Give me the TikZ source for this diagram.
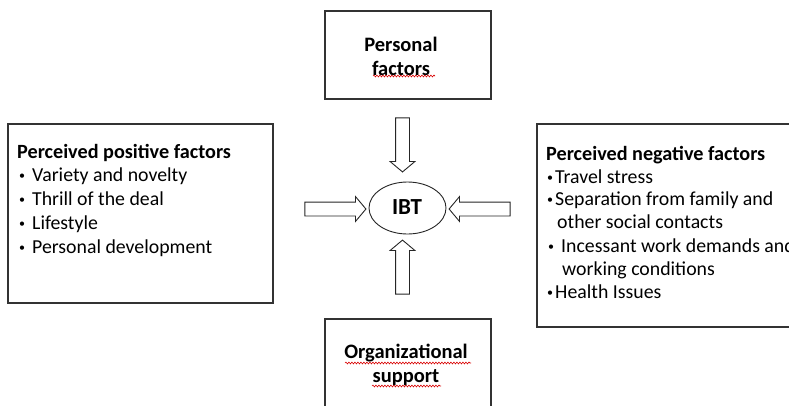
\documentclass[tikz,border=0pt]{standalone}
\usepackage{fontspec}
\setmainfont{Carlito}
\usetikzlibrary{shapes.geometric,shapes.arrows,decorations.pathmorphing}
\begin{document}
\begin{tikzpicture}[x=1pt,y=-1pt,
  box/.style={draw=black!80,line width=1.2pt,fill=white,inner sep=0pt},
  blockarrow/.style={single arrow,draw=black!85,line width=0.9pt,fill=white,
    inner xsep=0pt,inner ysep=6.5pt,single arrow head extend=5.5pt,
    single arrow tip angle=100},
  txt/.style={font=\fontsize{19.8}{23.5}\selectfont,inner sep=0pt,anchor=base west},
  ttl/.style={txt,font=\fontsize{20.2}{23.5}\selectfont\bfseries},
  bul/.style={font=\fontsize{12}{12}\selectfont,inner sep=0pt,anchor=base west},
  ctxt/.style={font=\fontsize{20.5}{24}\selectfont\bfseries,inner sep=0pt,align=center},
  squiggle/.style={draw=red!85!black,line width=0.6pt,decorate,
    decoration={snake,amplitude=0.9pt,segment length=3pt}}]
\useasboundingbox (0,0) rectangle (789,405);
\clip (0,0) rectangle (789,405);
% boxes
\node[box,minimum width=166pt,minimum height=88pt] (pf) at (408,55) {};
\node[box,minimum width=265pt,minimum height=179pt] (pos) at (140.5,213.5) {};
\node[box,minimum width=270pt,minimum height=203pt] (neg) at (672,225.5) {};
\node[box,minimum width=166pt,minimum height=100pt] (os) at (408,369) {};
\node[draw=black!85,line width=0.9pt,ellipse,minimum width=77pt,minimum height=52pt,inner sep=0pt] (ibt) at (407.5,208) {};
% box texts
\node[ctxt] (pft) at (401,56) {Personal\\factors};
\node[ctxt] (ost) at (406,365) {Organizational\\support};
\node[font=\fontsize{23}{24}\selectfont\bfseries,inner sep=0pt] (ibtt) at (407,207) {IBT};
% spell-check marks
\coordinate (s1a) at (373,76); \coordinate (s1b) at (435,76);
\coordinate (s2a) at (345,363); \coordinate (s2b) at (471,363);
\coordinate (s3a) at (372,386); \coordinate (s3b) at (441,386);
\path[squiggle] (s1a) -- (s1b);
\path[squiggle] (s2a) -- (s2b);
\path[squiggle] (s3a) -- (s3b);
% positive
\node[ttl] (pt) at (17,158) {Perceived positive factors};
\node[bul] (p1b) at (19,179) {•};
\node[txt] (p1) at (32,181) {Variety and novelty};
\node[bul] (p2b) at (19,203) {•};
\node[txt] (p2) at (32,205) {Thrill of the deal};
\node[bul] (p3b) at (19,227) {•};
\node[txt] (p3) at (32,229) {Lifestyle};
\node[bul] (p4b) at (19,251) {•};
\node[txt] (p4) at (32,253) {Personal development};
% negative
\node[ttl] (nt) at (546,160) {Perceived negative factors};
\node[bul] (n1b) at (547,181) {•};
\node[txt] (n1) at (555,183) {Travel stress};
\node[bul] (n2b) at (547,203) {•};
\node[txt] (n2) at (555,205) {Separation from family and};
\node[txt] (n2c) at (557,228) {other social contacts};
\node[bul] (n3b) at (548,250) {•};
\node[txt] (n3) at (561,252) {Incessant work demands and};
\node[txt] (n3c) at (562,275) {working conditions};
\node[bul] (n4b) at (547,296) {•};
\node[txt] (n4) at (555,298) {Health Issues};
% arrows
\node[blockarrow,minimum height=54pt,rotate=-90] (a1) at (402.5,142) {};
\node[blockarrow,minimum height=54pt,rotate=90] (a2) at (402.5,270) {};
\node[blockarrow,minimum height=61pt,rotate=0] (a3) at (332.5,209) {};
\node[blockarrow,minimum height=61pt,rotate=180] (a4) at (482.5,209) {};
\end{tikzpicture}
\end{document}
